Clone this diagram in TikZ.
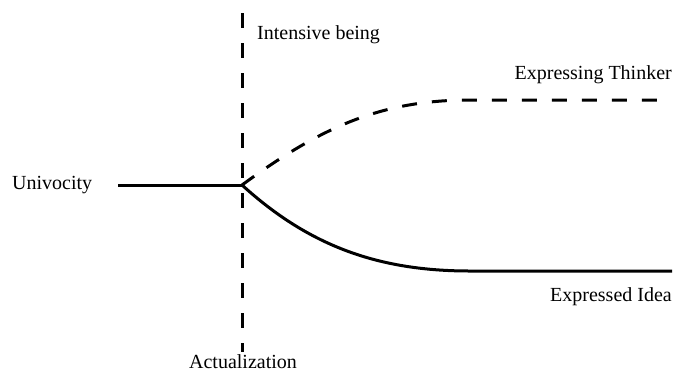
\documentclass[tikz,border=0pt]{standalone}
\usepackage{fontspec}
\setmainfont{Liberation Serif}
\begin{document}
\begin{tikzpicture}[x=1pt,y=-1pt,
  lbl/.style={font=\fontsize{20}{24}\selectfont, inner sep=0pt},
  thick line/.style={line width=3pt},
  dashline/.style={line width=3pt, dash pattern=on 15pt off 15pt}]
\useasboundingbox (0,0) rectangle (677,376);
% coordinates
\coordinate (top) at (242,13);
\coordinate (bot) at (242,352);
\coordinate (start) at (118,185);
\coordinate (split) at (242,185);
\coordinate (upbend) at (470,100);
\coordinate (upend) at (670,100);
\coordinate (lowbend) at (470,271);
\coordinate (lowend) at (672,271);
% vertical dashed line
\draw[dashline] (top) -- (bot);
% univocity line
\draw[thick line] (start) -- (split);
% expressing thinker (dashed)
\draw[dashline] (split) .. controls (320,128) and (380,100) .. (upbend) -- (upend);
% expressed idea (solid)
\draw[thick line] (split) .. controls (310,247) and (380,271) .. (lowbend) -- (lowend);
% labels
\node[lbl, anchor=west] (univ) at (12,185) {Univocity};
\node[lbl, anchor=west] (intens) at (257,35) {Intensive being};
\node[lbl, anchor=east] (thinker) at (672,75) {Expressing Thinker};
\node[lbl, anchor=east] (idea) at (672,297) {Expressed Idea};
\node[lbl] (actual) at (243,362) {Actualization};
\end{tikzpicture}
\end{document}
